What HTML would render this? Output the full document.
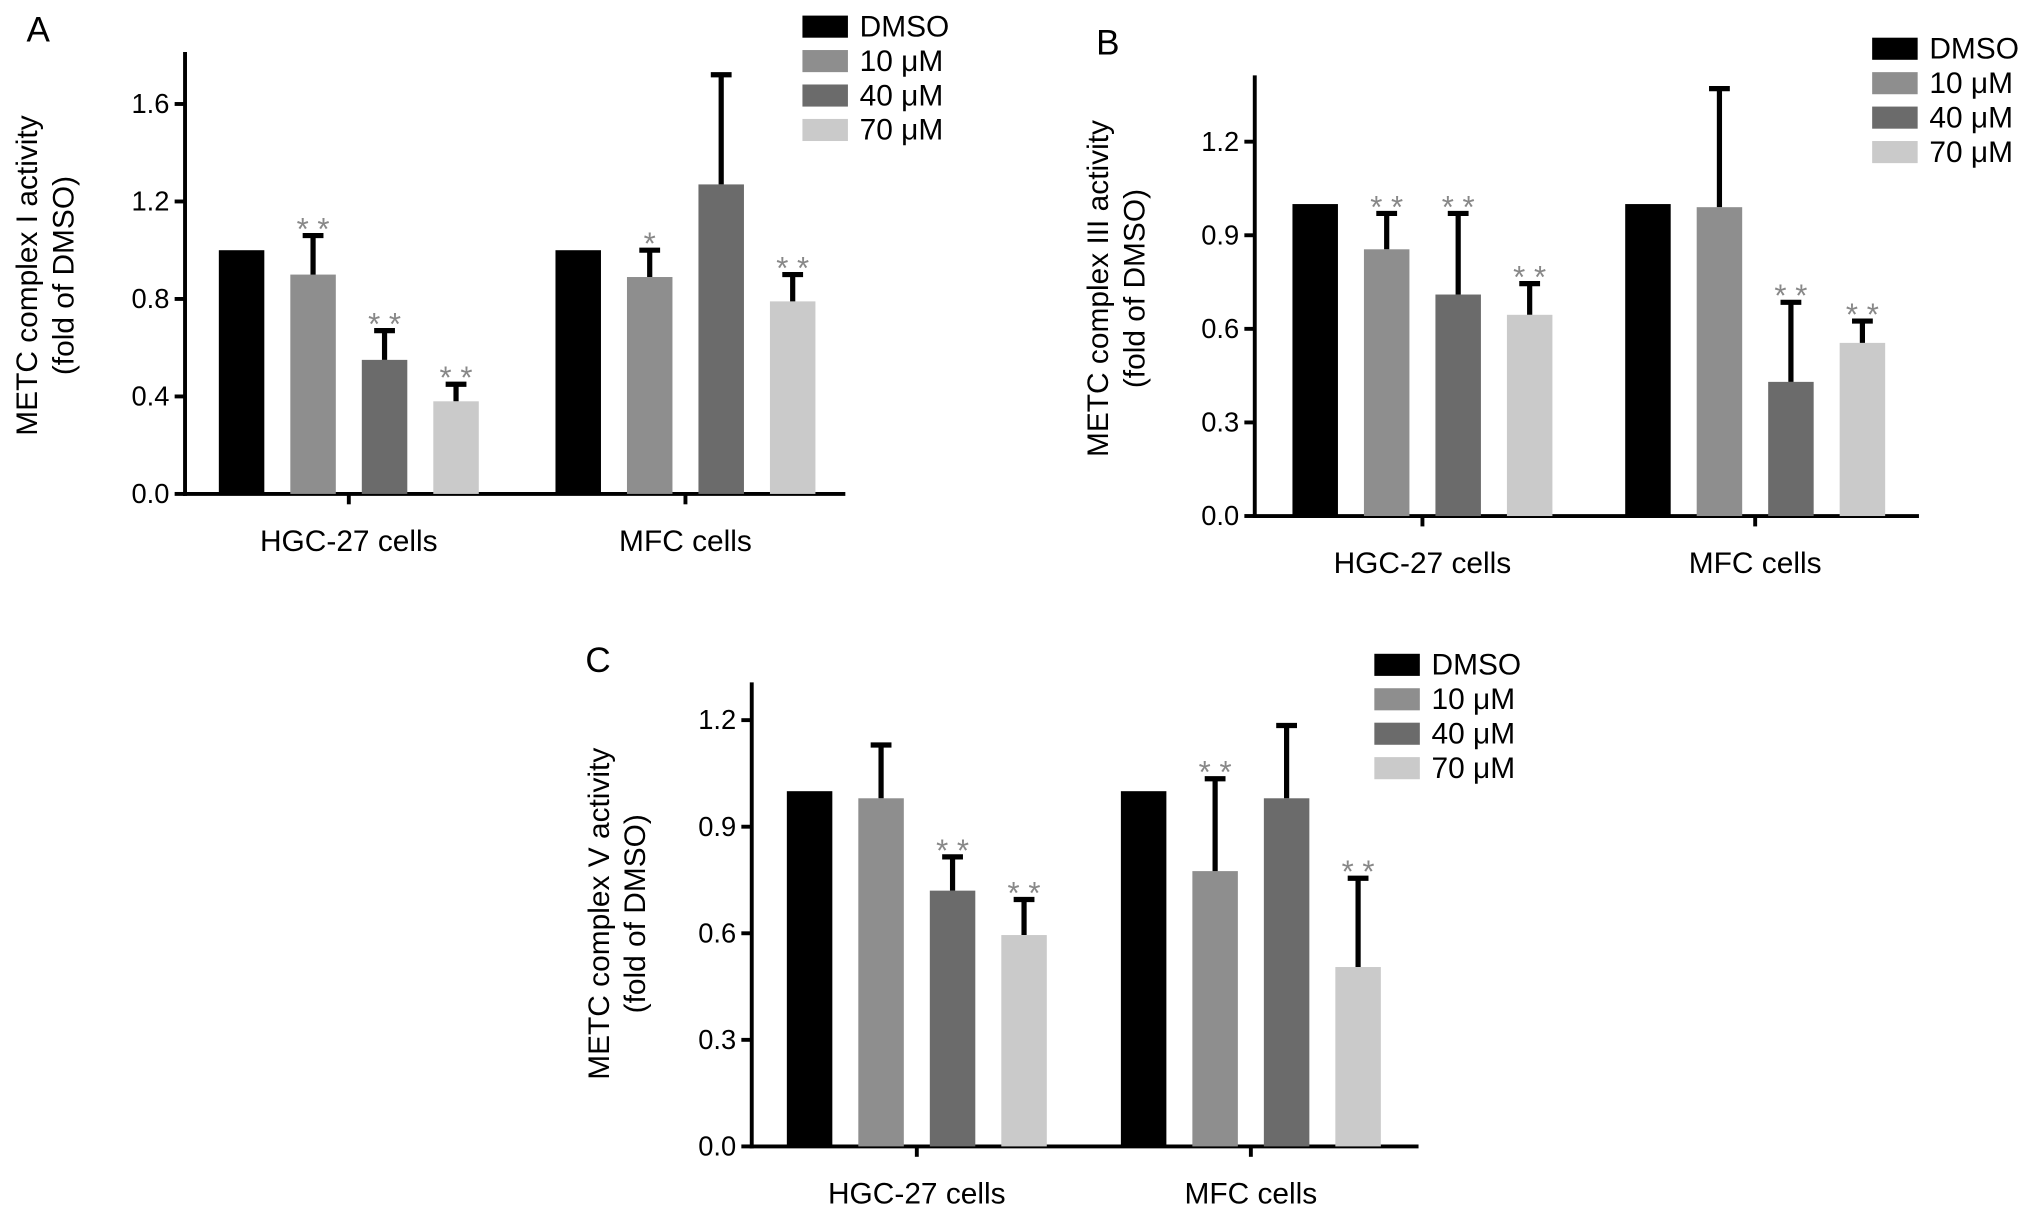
<!DOCTYPE html>
<html><head><meta charset="utf-8"><style>html,body{margin:0;padding:0;background:#fff}svg{display:block}text{font-family:"Liberation Sans",Arial,sans-serif}</style></head>
<body>
<svg id="chart" width="2039" height="1227" viewBox="0 0 1568 944" xmlns="http://www.w3.org/2000/svg"></svg>
<script>
const groups = ["HGC-27 cells", "MFC cells"];
const series = ["DMSO", "10 \u03bcM", "40 \u03bcM", "70 \u03bcM"];
const colors = ["#000000", "#8e8e8e", "#6b6b6b", "#cacaca"];
// Panel A
const aValues = [[1.0, 0.9, 0.55, 0.38], [1.0, 0.89, 1.27, 0.79]];
const aErrTop = [[null, 1.06, 0.67, 0.45], [null, 1.0, 1.72, 0.9]];
const aStars = [["", "* *", "* *", "* *"], ["", "*", "", "* *"]];
const aTicks = [0, 0.4, 0.8, 1.2, 1.6];
const aTickLabels = ["0.0", "0.4", "0.8", "1.2", "1.6"];
// Panel B
const bValues = [[1.0, 0.855, 0.71, 0.645], [1.0, 0.99, 0.43, 0.555]];
const bErrTop = [[null, 0.97, 0.97, 0.745], [null, 1.37, 0.685, 0.625]];
const bStars = [["", "* *", "* *", "* *"], ["", "", "* *", "* *"]];
const bTicks = [0, 0.3, 0.6, 0.9, 1.2];
const bTickLabels = ["0.0", "0.3", "0.6", "0.9", "1.2"];
// Panel C
const cValues = [[1.0, 0.98, 0.72, 0.595], [1.0, 0.775, 0.98, 0.505]];
const cErrTop = [[null, 1.13, 0.815, 0.695], [null, 1.035, 1.185, 0.755]];
const cStars = [["", "", "* *", "* *"], ["", "* *", "", "* *"]];
const cTicks = [0, 0.3, 0.6, 0.9, 1.2];
const cTickLabels = ["0.0", "0.3", "0.6", "0.9", "1.2"];

const svg = document.getElementById('chart');
const NS = "http://www.w3.org/2000/svg";
function mk(tag, attrs, parent, txt) {
  const e = document.createElementNS(NS, tag);
  for (const k in attrs) e.setAttribute(k, attrs[k]);
  if (txt !== undefined) e.textContent = txt;
  parent.appendChild(e);
  return e;
}
function panel(cfg) {
  const g = mk('g', {}, svg);
  
  
  const y = v => cfg.y0 - v * cfg.ppu;
  const lt = mk('text', {x: cfg.letterX, y: cfg.letterY, 'font-size': 27}, g, cfg.id.toUpperCase());
  
  
  const ya = mk('line', {x1: cfg.ax, y1: cfg.top, x2: cfg.ax, y2: cfg.y0 + 1.5, stroke: '#000', 'stroke-width': 3}, g);
  
  
  const xa = mk('line', {x1: cfg.ax - 1.5, y1: cfg.y0, x2: cfg.axEnd, y2: cfg.y0, stroke: '#000', 'stroke-width': 3}, g);
  
  
  cfg.ticks.forEach((t, i) => {
    mk('line', {x1: cfg.ax - 8, y1: y(t), x2: cfg.ax, y2: y(t), stroke: '#000', 'stroke-width': 3}, g);
    const tl = mk('text', {x: cfg.ax - 12, y: y(t) + 7, 'font-size': 21, 'text-anchor': 'end'}, g, cfg.tickLabels[i]);
    
    
  });
  const yl = mk('text', {transform: `translate(${cfg.ylX},${cfg.ylY}) rotate(-90)`, 'font-size': 23, 'text-anchor': 'middle'}, g);
  
  
  mk('tspan', {x: 0, dy: 0}, yl, cfg.ylabel);
  mk('tspan', {x: 0, dy: 28}, yl, '(fold of DMSO)');
  groups.forEach((gn, gi) => {
    const gx = cfg.groupX[gi];
    const bw = 35, step = 55;
    const start = gx - (step * 1.5) - bw / 2;
    mk('line', {x1: gx, y1: cfg.y0, x2: gx, y2: cfg.y0 + 8, stroke: '#000', 'stroke-width': 3}, g);
    const xl = mk('text', {x: gx, y: cfg.y0 + 44, 'font-size': 23, 'text-anchor': 'middle'}, g, gn);
    
    
    cfg.values[gi].forEach((v, si) => {
      const bx = start + si * step;
      const r = mk('rect', {x: bx, y: y(v), width: bw, height: cfg.y0 - y(v), fill: colors[si]}, g);
      
      
      const et = cfg.err[gi][si];
      if (et !== null) {
        const cx = bx + bw / 2;
        const el = mk('path', {d: `M${cx},${y(v)} V${y(et)} M${cx - 8},${y(et)} H${cx + 8}`, stroke: '#000', 'stroke-width': 4, fill: 'none'}, g);
        
        
      }
      const st = cfg.stars[gi][si];
      if (st) {
        const top = et !== null ? y(et) : y(v);
        const s = mk('text', {x: bx + bw / 2, y: top + 3, 'font-size': 24, fill: '#888', 'text-anchor': 'middle'}, g, st);
        
        
      }
    });
  });
  series.forEach((sn, si) => {
    const ly = cfg.legY + si * 26.5;
    const lr = mk('rect', {x: cfg.legX, y: ly - 8, width: 35, height: 17, fill: colors[si]}, g);
    
    
    const lt2 = mk('text', {x: cfg.legX + 44, y: ly + 8, 'font-size': 23}, g, sn);
    
    
  });
}
panel({id: 'a', values: aValues, err: aErrTop, stars: aStars, ticks: aTicks, tickLabels: aTickLabels,
  ax: 142, axEnd: 650, top: 40, y0: 380, ppu: 187.5, groupX: [268, 527], ylabel: 'METC complex I activity',
  ylX: 28, ylY: 212, letterX: 20, letterY: 32, legX: 617, legY: 20});
panel({id: 'b', values: bValues, err: bErrTop, stars: bStars, ticks: bTicks, tickLabels: bTickLabels,
  ax: 965, axEnd: 1476, top: 58, y0: 397, ppu: 240, groupX: [1094, 1350], ylabel: 'METC complex III activity',
  ylX: 852, ylY: 222, letterX: 843, letterY: 42, legX: 1440, legY: 37});
panel({id: 'c', values: cValues, err: cErrTop, stars: cStars, ticks: cTicks, tickLabels: cTickLabels,
  ax: 578, axEnd: 1091, top: 525, y0: 882, ppu: 273.3, groupX: [705, 962], ylabel: 'METC complex V activity',
  ylX: 468, ylY: 703, letterX: 450, letterY: 517, legX: 1057, legY: 511});
</script>
</body></html>
